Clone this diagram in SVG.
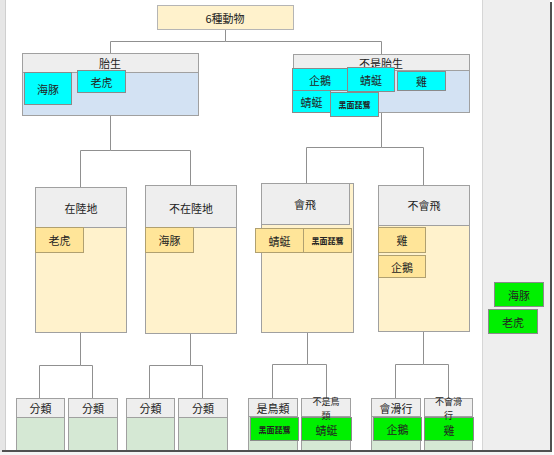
<svg xmlns="http://www.w3.org/2000/svg" width="554" height="455" viewBox="0 0 554 455">
<style>
text{font-family:"Noto Sans CJK TC","Noto Sans CJK SC",sans-serif;font-size:11px;fill:#222;text-anchor:middle;dominant-baseline:central}
.hdr{fill:#eeeeee;stroke:#a0a0a0;stroke-width:1}
.yb{fill:#fff2cc;stroke:#a0a0a0;stroke-width:1}
.blue{fill:#d3e2f3;stroke:#a0a0a0;stroke-width:1}
.cy{fill:#00ffff;stroke:#8a8a8a;stroke-width:1}
.gold{fill:#ffe599;stroke:#b0a070;stroke-width:1}
.gb{fill:#d5e8d4;stroke:#a0a0a0;stroke-width:1}
.gr{fill:#00f000;stroke:#8a8a8a;stroke-width:1}
.conn path{fill:none;stroke:#909090;stroke-width:1}
.sm{font-size:8px;font-weight:bold}
.wr{font-size:9px}
</style>
<rect x="0" y="0" width="554" height="455" fill="#ffffff"/>
<g id="frame">
<rect x="0" y="0" width="5" height="452" fill="#e6e6e6"/>
<line x1="5.5" y1="0" x2="5.5" y2="451" stroke="#cfcfcf"/>
<rect x="482" y="0" width="68" height="451" fill="#eeeeee"/>
<line x1="482.5" y1="0" x2="482.5" y2="451" stroke="#d6d6d6"/>
</g>
<g class="conn" id="connectors">
<path d="M225.5 29V41.5H110.5V53M225.5 41.5H381.5V54"/>
<path d="M110.5 115V150.5H80.5V187M110.5 150.5H190.5V185"/>
<path d="M381.5 112V147.5H306.5V183M381.5 147.5H423.5V185"/>
<path d="M80.5 332V365.5H39.5V398M80.5 365.5H92.5V398"/>
<path d="M190.5 333V365.5H149.5V398M190.5 365.5H202.5V398"/>
<path d="M307.5 332V364.5H272.5V398M307.5 364.5H326.5V398"/>
<path d="M423.5 331V364.5H395.5V398M423.5 364.5H448.5V398"/>
</g>
<g id="root">
<rect x="157.5" y="5.5" width="136" height="24" fill="#fff2cc" stroke="#b5b5b5"/>
<text x="225" y="17.5">6種動物</text>
</g>
<g id="viviparous">
<rect class="blue" x="22.5" y="53.5" width="176" height="62"/>
<rect class="hdr" x="22.5" y="53.5" width="176" height="19"/>
<text x="110" y="63">胎生</text>
<rect class="cy" x="24.5" y="72.5" width="47" height="32"/>
<text x="48" y="88.5">海豚</text>
<rect class="cy" x="77.5" y="70.5" width="48" height="22"/>
<text x="101.5" y="81.5">老虎</text>
</g>
<g id="not-viviparous">
<rect class="blue" x="293.5" y="54.5" width="176" height="58"/>
<rect class="hdr" x="293.5" y="54.5" width="176" height="16"/>
<text x="381" y="63">不是胎生</text>
<rect class="cy" x="292.5" y="68.5" width="55" height="22"/>
<text x="320" y="79.5">企鵝</text>
<rect class="cy" x="347.5" y="67.5" width="47" height="24"/>
<text x="371" y="79.5">蜻蜓</text>
<rect class="cy" x="397.5" y="71.5" width="48" height="19"/>
<text x="421.5" y="81">雞</text>
<rect class="cy" x="292.5" y="90.5" width="38" height="22"/>
<text x="311.5" y="101.5">蜻蜓</text>
<rect class="cy" x="330.5" y="92.5" width="48" height="24"/>
<text class="sm" x="354.5" y="104.5">黑面琵鷺</text>
</g>
<g id="on-land">
<rect class="yb" x="35.5" y="187.5" width="91" height="145"/>
<rect class="hdr" x="35.5" y="187.5" width="91" height="40"/>
<text x="81" y="207.5">在陸地</text>
<rect class="gold" x="35.5" y="227.5" width="48" height="25"/>
<text x="59.5" y="240">老虎</text>
</g>
<g id="not-on-land">
<rect class="yb" x="145.5" y="185.5" width="91" height="148"/>
<rect class="hdr" x="145.5" y="185.5" width="91" height="42"/>
<text x="191" y="207.5">不在陸地</text>
<rect class="gold" x="145.5" y="227.5" width="48" height="25"/>
<text x="169.5" y="240">海豚</text>
</g>
<g id="can-fly">
<rect class="yb" x="261.5" y="183.5" width="92" height="149"/>
<rect class="hdr" x="261.5" y="183.5" width="88" height="41"/>
<text x="305" y="204">會飛</text>
<rect class="gold" x="255.5" y="228.5" width="48" height="24"/>
<text x="279.5" y="240.5">蜻蜓</text>
<rect class="gold" x="303.5" y="228.5" width="48" height="24"/>
<text class="sm" x="327.5" y="240.5">黑面琵鷺</text>
</g>
<g id="cannot-fly">
<rect class="yb" x="378.5" y="185.5" width="91" height="146"/>
<rect class="hdr" x="378.5" y="185.5" width="91" height="40"/>
<text x="424" y="205">不會飛</text>
<rect class="gold" x="378.5" y="227.5" width="47" height="25"/>
<text x="402" y="240">雞</text>
<rect class="gold" x="378.5" y="255.5" width="47" height="22"/>
<text x="402" y="266.5">企鵝</text>
</g>
<g id="cat1">
<rect class="gb" x="16.5" y="398.5" width="48" height="60"/>
<rect class="hdr" x="16.5" y="398.5" width="48" height="19"/>
<text x="40.5" y="408">分類</text>
</g>
<g id="cat2">
<rect class="gb" x="68.5" y="398.5" width="49" height="60"/>
<rect class="hdr" x="68.5" y="398.5" width="49" height="19"/>
<text x="93" y="408">分類</text>
</g>
<g id="cat3">
<rect class="gb" x="126.5" y="398.5" width="48" height="60"/>
<rect class="hdr" x="126.5" y="398.5" width="48" height="19"/>
<text x="150.5" y="408">分類</text>
</g>
<g id="cat4">
<rect class="gb" x="178.5" y="398.5" width="49" height="60"/>
<rect class="hdr" x="178.5" y="398.5" width="49" height="19"/>
<text x="203" y="408">分類</text>
</g>
<g id="is-bird">
<rect class="gb" x="248.5" y="398.5" width="49" height="60"/>
<rect class="hdr" x="248.5" y="398.5" width="49" height="18"/>
<text x="273" y="407.5">是鳥類</text>
<rect class="gr" x="250.5" y="417.5" width="48" height="23"/>
<text class="sm" x="274.5" y="429">黑面琵鷺</text>
</g>
<g id="not-bird">
<rect class="gb" x="301.5" y="398.5" width="49" height="60"/>
<rect class="hdr" x="301.5" y="398.5" width="49" height="18"/>
<rect class="gr" x="301.5" y="417.5" width="50" height="23"/>
<text class="wr" x="326" y="401"><tspan x="326" dy="0">不是鳥</tspan><tspan x="326" dy="13.5">類</tspan></text>
<text x="326.5" y="430">蜻蜓</text>
</g>
<g id="can-glide">
<rect class="gb" x="371.5" y="398.5" width="49" height="60"/>
<rect class="hdr" x="371.5" y="398.5" width="49" height="18"/>
<text x="396" y="407.5">會滑行</text>
<rect class="gr" x="373.5" y="417.5" width="48" height="23"/>
<text x="397.5" y="429">企鵝</text>
</g>
<g id="cannot-glide">
<rect class="gb" x="424.5" y="398.5" width="48" height="60"/>
<rect class="hdr" x="424.5" y="398.5" width="48" height="18"/>
<rect class="gr" x="424.5" y="417.5" width="49" height="23"/>
<text class="wr" x="448.5" y="401"><tspan x="448.5" dy="0">不會滑</tspan><tspan x="448.5" dy="13.5">行</tspan></text>
<text x="449" y="430">雞</text>
</g>
<g id="spare-dolphin">
<rect class="gr" x="494.5" y="282.5" width="49" height="24"/>
<text x="519" y="294.5">海豚</text>
</g>
<g id="spare-tiger">
<rect class="gr" x="488.5" y="309.5" width="49" height="24"/>
<text x="513" y="321.5">老虎</text>
</g>
<g id="edges">
<rect x="0" y="452" width="554" height="3" fill="#f4f4f4"/>
<rect x="2" y="450" width="550" height="2" fill="#505050"/>
<rect x="550" y="2" width="2" height="450" fill="#505050"/>
<rect x="552" y="0" width="2" height="455" fill="#ffffff"/>
</g>
</svg>
